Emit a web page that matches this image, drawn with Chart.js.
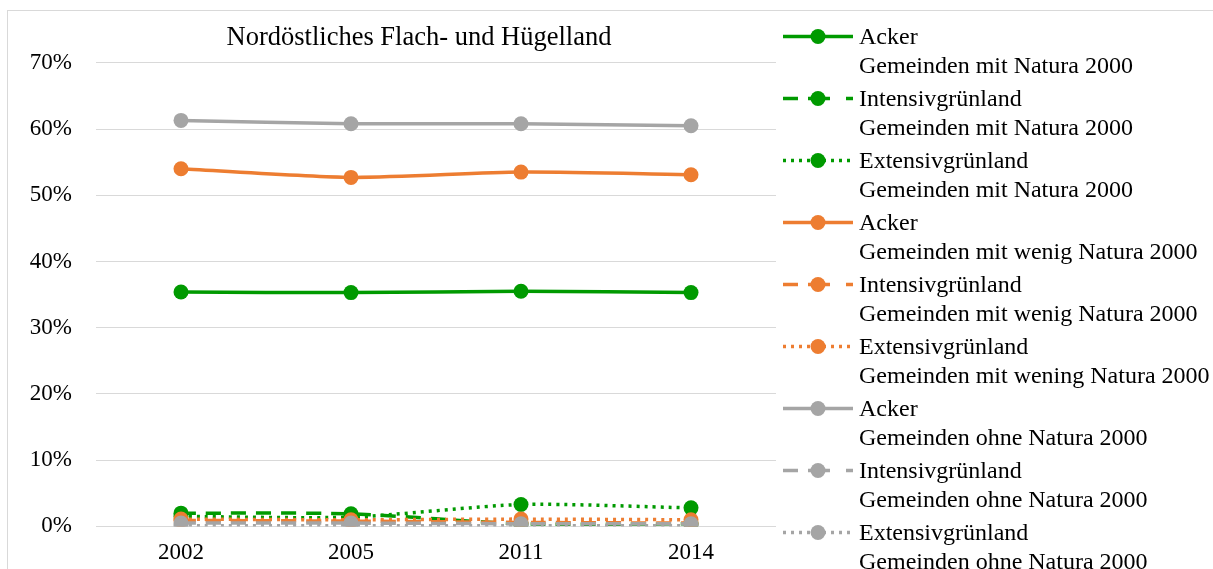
<!DOCTYPE html>
<html>
<head>
<meta charset="utf-8">
<script src="https://cdn.jsdelivr.net/npm/chart.js@4"></script>
<style>
  body { margin: 0; background: #fff; overflow: hidden; }
  #frame { position: absolute; left: 7px; top: 10px; width: 1210px; height: 600px; border: 1px solid #d9d9d9; }
  #wrap { position: absolute; left: 0px; top: 0px; width: 822px; height: 561px; }
  #legend { position: absolute; left: 775px; top: 11px; font-family: "Liberation Serif", serif; font-size: 24px; color: #000; }
  .item { display: flex; align-items: flex-start; height: 62px; }
  .item svg { flex: none; }
  .item div { line-height: 29px; margin-left: 6px; white-space: nowrap; }
</style>
</head>
<body>
<div id="frame">
  <div id="wrap"><canvas id="chart"></canvas></div>
  <div id="legend"></div>
</div>
<script>
// data (percent)
const years = ['2002', '2005', '2011', '2014'];
const ackerMit = [35.4, 35.3, 35.5, 35.3];
const intensivMit = [2.0, 1.9, 0.4, 0.4];
const extensivMit = [1.5, 1.4, 3.3, 2.8];
const ackerWenig = [54.0, 52.7, 53.5, 53.1];
const intensivWenig = [0.9, 0.8, 0.6, 0.5];
const extensivWenig = [1.1, 1.0, 1.1, 1.0];
const ackerOhne = [61.3, 60.8, 60.8, 60.5];
const intensivOhne = [0.5, 0.5, 0.4, 0.4];
const extensivOhne = [0.1, 0.1, 0.1, 0.1];

const labels = [
  ['Acker', 'Gemeinden mit Natura 2000'],
  ['Intensivgrünland', 'Gemeinden mit Natura 2000'],
  ['Extensivgrünland', 'Gemeinden mit Natura 2000'],
  ['Acker', 'Gemeinden mit wenig Natura 2000'],
  ['Intensivgrünland', 'Gemeinden mit wenig Natura 2000'],
  ['Extensivgrünland', 'Gemeinden mit wening Natura 2000'],
  ['Acker', 'Gemeinden ohne Natura 2000'],
  ['Intensivgrünland', 'Gemeinden ohne Natura 2000'],
  ['Extensivgrünland', 'Gemeinden ohne Natura 2000']
];

const green = '#009a00', orange = '#ed7d31', gray = '#a5a5a5';
const solid = [], dashed = [15, 10], dotted = [3, 5];

const series = [
  [ackerMit, green, solid], [intensivMit, green, dashed], [extensivMit, green, dotted],
  [ackerWenig, orange, solid], [intensivWenig, orange, dashed], [extensivWenig, orange, dotted],
  [ackerOhne, gray, solid], [intensivOhne, gray, dashed], [extensivOhne, gray, dotted]
];

const datasets = series.map(([data, color, dash], i) => ({
  label: labels[i].join(' '),
  data: data,
  borderColor: color,
  backgroundColor: color,
  borderWidth: 3.5,
  borderDash: dash,
  pointRadius: 7.5,
  pointHoverRadius: 7.5,
  pointBorderWidth: 0,
  tension: 0.25,
  order: 9 - i
}));

Chart.defaults.font.family = '"Liberation Serif", serif';
Chart.defaults.font.size = 23;
Chart.defaults.color = '#000';

new Chart(document.getElementById('chart'), {
  type: 'line',
  data: { labels: years, datasets: datasets },
  options: {
    responsive: true,
    maintainAspectRatio: false,
    animation: false,
    layout: { padding: 0 },
    plugins: {
      legend: { display: false },
      tooltip: { enabled: false },
      title: {
        display: true,
        text: 'Nordöstliches Flach- und Hügelland',
        font: { size: 26.5, weight: 'normal' },
        padding: { top: 11, bottom: 9 }
      }
    },
    scales: {
      x: {
        offset: true,
        grid: { display: false },
        border: { display: false },
        ticks: { padding: 5 }
      },
      y: {
        min: 0,
        max: 70,
        grid: { color: '#d9d9d9', lineWidth: 1, drawTicks: false },
        border: { display: false },
        ticks: { stepSize: 10, padding: 24, callback: v => v + '%' },
        afterFit: scale => { scale.width = 88; }
      },
      // empty right axis, only keeps space for the legend
      yRight: {
        position: 'right',
        grid: { display: false },
        border: { display: false },
        ticks: { display: false },
        afterFit: scale => { scale.width = 54; }
      }
    }
  }
});

// legend: line sample with marker, two text lines
const legend = document.getElementById('legend');
const legendDash = { 1: '15 10 22 16 10', 2: '3 5' };
series.forEach(([data, color, dash], i) => {
  const item = document.createElement('div');
  item.className = 'item';
  const d = dash.length ? ` stroke-dasharray="${legendDash[(i % 3)]}"` : '';
  item.innerHTML = `<svg width="70" height="29"><line x1="0" y1="14.5" x2="70" y2="14.5" stroke="${color}" stroke-width="3.5"${d}/><circle cx="35" cy="14.5" r="7.5" fill="${color}"/></svg>` +
    `<div>${labels[i][0]}<br>${labels[i][1]}</div>`;
  legend.appendChild(item);
});
</script>
</body>
</html>
